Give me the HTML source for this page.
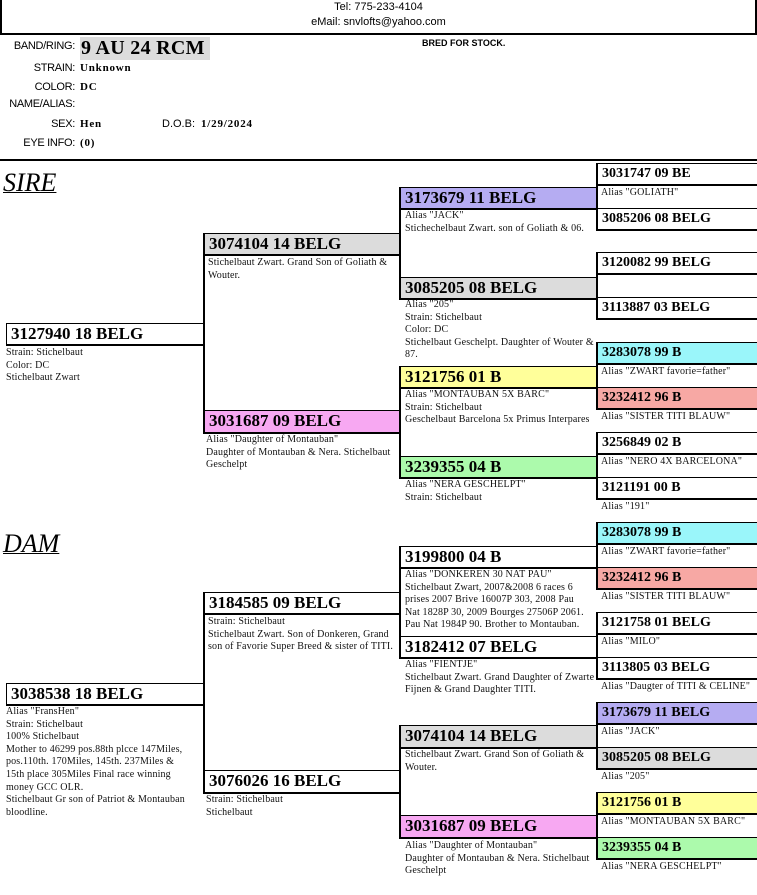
<!DOCTYPE html>
<html><head><meta charset="utf-8"><style>
body{margin:0;width:757px;height:895px;position:relative;background:#fff;overflow:hidden;font-family:"Liberation Serif",serif;color:#000}
div{position:absolute;box-sizing:border-box}
.b{border:1px solid #000;border-bottom:2px solid #000;border-right:2px solid #000;font:bold 17px "Liberation Serif",serif;padding-left:4px;line-height:20px;white-space:nowrap;overflow:hidden}
.g4{font-size:14px;line-height:19px;padding-left:4px}
.t{font:10px "Liberation Serif",serif;line-height:12.6px;color:#111;letter-spacing:0.15px}
.v{background:#000;width:2px}
.h{background:#000;height:2px}
.l{font:11px "Liberation Sans",sans-serif;text-align:right;width:75px;left:0;letter-spacing:-0.3px}
.val{font:bold 11px "Liberation Serif",serif;left:80px;letter-spacing:0.8px}
</style></head><body>
<div class="v" style="left:0;top:0;height:34px;width:2px"></div>
<div class="v" style="left:755px;top:0;height:34px;width:2px"></div>
<div class="h" style="left:0;top:33px;width:757px"></div>
<div style="left:0;width:757px;top:0;text-align:center;font:11px 'Liberation Sans',sans-serif;line-height:15px">Tel: 775-233-4104<br>eMail: snvlofts@yahoo.com</div>

<div class="l" style="top:40px">BAND/RING:</div>
<div style="left:80px;top:37px;width:130px;height:23px;background:#dcdcdc;font:bold 20px 'Liberation Serif',serif;line-height:23px;padding-left:1px;letter-spacing:0.3px">9 AU 24 RCM</div>
<div class="l" style="top:62px">STRAIN:</div><div class="val" style="top:62px">Unknown</div>
<div class="l" style="top:81px">COLOR:</div><div class="val" style="top:81px">DC</div>
<div class="l" style="top:98px">NAME/ALIAS:</div>
<div class="l" style="top:118px">SEX:</div><div class="val" style="top:118px">Hen</div>
<div style="left:162px;top:118px;font:11px 'Liberation Sans',sans-serif">D.O.B:</div><div class="val" style="left:201px;top:118px">1/29/2024</div>
<div class="l" style="top:137px">EYE INFO:</div><div class="val" style="top:137px">(0)</div>
<div style="left:422px;top:38px;font:bold 9px 'Liberation Sans',sans-serif">BRED FOR STOCK.</div>
<div class="h" style="left:0;top:159px;width:757px"></div>

<div style="left:3px;top:168px;font:italic 26px 'Liberation Serif',serif;text-decoration:underline;text-decoration-thickness:1px">SIRE</div>
<div style="left:3px;top:529px;font:italic 26px 'Liberation Serif',serif;text-decoration:underline;text-decoration-thickness:1px">DAM</div>

<div class="v" style="left:203px;top:233px;height:201px"></div>
<div class="v" style="left:203px;top:592px;height:202px"></div>
<div class="v" style="left:399px;top:187px;height:113px"></div>
<div class="v" style="left:399px;top:366px;height:113px"></div>
<div class="v" style="left:399px;top:546px;height:113px"></div>
<div class="v" style="left:399px;top:725px;height:114px"></div>
<div class="v" style="left:596px;top:163px;height:68px"></div>
<div class="v" style="left:596px;top:252px;height:68px"></div>
<div class="v" style="left:596px;top:342px;height:68px"></div>
<div class="v" style="left:596px;top:432px;height:68px"></div>
<div class="v" style="left:596px;top:522px;height:68px"></div>
<div class="v" style="left:596px;top:612px;height:68px"></div>
<div class="v" style="left:596px;top:702px;height:68px"></div>
<div class="v" style="left:596px;top:792px;height:68px"></div>

<div class="b" style="left:6px;top:323px;width:199px;height:23px">3127940 18 BELG</div>
<div class="t" style="left:6px;top:347px">Strain: Stichelbaut<br>Color: DC<br>Stichelbaut Zwart</div>
<div class="b" style="left:6px;top:683px;width:199px;height:23px">3038538 18 BELG</div>
<div class="t" style="left:6px;top:706px;width:186px">Alias "FransHen"<br>Strain: Stichelbaut<br>100% Stichelbaut<br>Mother to 46299 pos.88th plcce 147Miles, pos.110th. 170Miles, 145th. 237Miles &amp; 15th place 305Miles Final race winning money GCC OLR.<br>Stichelbaut Gr son of Patriot &amp; Montauban bloodline.</div>

<div class="b" style="left:204px;top:233px;width:197px;height:23px;background:#dcdcdc">3074104 14 BELG</div>
<div class="t" style="left:208px;top:257px;width:190px">Stichelbaut Zwart. Grand Son of Goliath &amp; Wouter.</div>
<div class="b" style="left:204px;top:410px;width:197px;height:24px;background:#f7a8f2">3031687 09 BELG</div>
<div class="t" style="left:206px;top:434px;width:192px">Alias "Daughter of Montauban"<br>Daughter of Montauban &amp; Nera. Stichelbaut Geschelpt</div>
<div class="b" style="left:204px;top:592px;width:197px;height:23px">3184585 09 BELG</div>
<div class="t" style="left:208px;top:616px;width:190px">Strain: Stichelbaut<br>Stichelbaut Zwart. Son of Donkeren, Grand son of Favorie Super Breed &amp; sister of TITI.</div>
<div class="b" style="left:204px;top:770px;width:197px;height:24px">3076026 16 BELG</div>
<div class="t" style="left:206px;top:794px">Strain: Stichelbaut<br>Stichelbaut</div>

<div class="b" style="left:400px;top:187px;width:198px;height:23px;background:#b5acf2">3173679 11 BELG</div>
<div class="t" style="left:405px;top:210px;width:190px">Alias "JACK"<br>Stichechelbaut Zwart. son of Goliath &amp; 06.</div>
<div class="b" style="left:400px;top:277px;width:198px;height:23px;background:#dcdcdc">3085205 08 BELG</div>
<div class="t" style="left:405px;top:299px;width:190px">Alias "205"<br>Strain: Stichelbaut<br>Color: DC<br>Stichelbaut Geschelpt. Daughter of Wouter &amp; 87.</div>
<div class="b" style="left:400px;top:366px;width:198px;height:23px;background:#ffff9a">3121756 01 B</div>
<div class="t" style="left:405px;top:389px;width:194px">Alias "MONTAUBAN 5X BARC"<br>Strain: Stichelbaut<br>Geschelbaut Barcelona 5x Primus Interpares</div>
<div class="b" style="left:400px;top:456px;width:198px;height:23px;background:#acfaac">3239355 04 B</div>
<div class="t" style="left:405px;top:479px">Alias "NERA GESCHELPT"<br>Strain: Stichelbaut</div>
<div class="b" style="left:400px;top:546px;width:198px;height:23px">3199800 04 B</div>
<div class="t" style="left:405px;top:569px;width:186px">Alias "DONKEREN 30 NAT PAU"<br>Stichelbaut Zwart, 2007&amp;2008 6 races 6 prises 2007 Brive 16007P 303, 2008 Pau Nat 1828P 30, 2009 Bourges 27506P 2061. Pau Nat 1984P 90. Brother to Montauban.</div>
<div class="b" style="left:400px;top:636px;width:198px;height:23px">3182412 07 BELG</div>
<div class="t" style="left:405px;top:659px;width:194px">Alias "FIENTJE"<br>Stichelbaut Zwart. Grand Daughter of Zwarte Fijnen &amp; Grand Daughter TITI.</div>
<div class="b" style="left:400px;top:725px;width:198px;height:24px;background:#dcdcdc">3074104 14 BELG</div>
<div class="t" style="left:405px;top:749px;width:190px">Stichelbaut Zwart. Grand Son of Goliath &amp; Wouter.</div>
<div class="b" style="left:400px;top:815px;width:198px;height:24px;background:#f7a8f2">3031687 09 BELG</div>
<div class="t" style="left:405px;top:840px;width:192px">Alias "Daughter of Montauban"<br>Daughter of Montauban &amp; Nera. Stichelbaut Geschelpt</div>

<div class="b g4" style="left:597px;top:163px;width:162px;height:23px">3031747 09 BE</div>
<div class="t" style="left:601px;top:187px">Alias "GOLIATH"</div>
<div class="b g4" style="left:597px;top:208px;width:162px;height:23px">3085206 08 BELG</div>
<div class="b g4" style="left:597px;top:252px;width:162px;height:23px">3120082 99 BELG</div>
<div class="b g4" style="left:597px;top:297px;width:162px;height:23px">3113887 03 BELG</div>
<div class="b g4" style="left:597px;top:342px;width:162px;height:23px;background:#9af6fa">3283078 99 B</div>
<div class="t" style="left:601px;top:366px">Alias "ZWART favorie=father"</div>
<div class="b g4" style="left:597px;top:387px;width:162px;height:23px;background:#f7a8a4">3232412 96 B</div>
<div class="t" style="left:601px;top:411px">Alias "SISTER TITI BLAUW"</div>
<div class="b g4" style="left:597px;top:432px;width:162px;height:23px">3256849 02 B</div>
<div class="t" style="left:601px;top:456px">Alias "NERO 4X BARCELONA"</div>
<div class="b g4" style="left:597px;top:477px;width:162px;height:23px">3121191 00 B</div>
<div class="t" style="left:601px;top:501px">Alias "191"</div>
<div class="b g4" style="left:597px;top:522px;width:162px;height:23px;background:#9af6fa">3283078 99 B</div>
<div class="t" style="left:601px;top:546px">Alias "ZWART favorie=father"</div>
<div class="b g4" style="left:597px;top:567px;width:162px;height:23px;background:#f7a8a4">3232412 96 B</div>
<div class="t" style="left:601px;top:591px">Alias "SISTER TITI BLAUW"</div>
<div class="b g4" style="left:597px;top:612px;width:162px;height:23px">3121758 01 BELG</div>
<div class="t" style="left:601px;top:636px">Alias "MILO"</div>
<div class="b g4" style="left:597px;top:657px;width:162px;height:23px">3113805 03 BELG</div>
<div class="t" style="left:601px;top:681px">Alias "Daugter of TITI &amp; CELINE"</div>
<div class="b g4" style="left:597px;top:702px;width:162px;height:23px;background:#b5acf2">3173679 11 BELG</div>
<div class="t" style="left:601px;top:726px">Alias "JACK"</div>
<div class="b g4" style="left:597px;top:747px;width:162px;height:23px;background:#dcdcdc">3085205 08 BELG</div>
<div class="t" style="left:601px;top:771px">Alias "205"</div>
<div class="b g4" style="left:597px;top:792px;width:162px;height:23px;background:#ffff9a">3121756 01 B</div>
<div class="t" style="left:601px;top:816px">Alias "MONTAUBAN 5X BARC"</div>
<div class="b g4" style="left:597px;top:837px;width:162px;height:23px;background:#acfaac">3239355 04 B</div>
<div class="t" style="left:601px;top:861px">Alias "NERA GESCHELPT"</div>
</body></html>
